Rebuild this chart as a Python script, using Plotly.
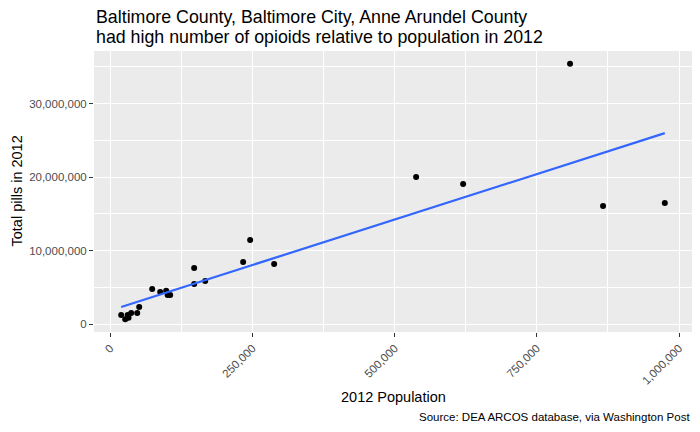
import numpy as np
import plotly.graph_objects as go

population = [19300, 26400, 30600, 32300, 36900, 47500, 51000, 73800, 87900, 98400,
              100900, 105400, 147600, 147600, 167000, 233700, 246000, 288200,
              537800, 620400, 808400, 866400, 975000]
pills = [1.22e6, 0.66e6, 1.22e6, 0.86e6, 1.50e6, 1.50e6, 2.31e6, 4.76e6, 4.35e6, 4.53e6,
         3.95e6, 3.95e6, 7.62e6, 5.44e6, 5.85e6, 8.44e6, 11.43e6, 8.16e6,
         20.0e6, 19.05e6, 35.4e6, 16.05e6, 16.46e6]

title_lines = ["Baltimore County, Baltimore City, Anne Arundel County",
               "had high number of opioids relative to population in 2012"]
x_title = "2012 Population"
y_title = "Total pills in 2012"
caption = "Source: DEA ARCOS database, via Washington Post"

x = np.array(population, dtype=float)
y = np.array(pills, dtype=float)
slope, intercept = np.polyfit(x, y, 1)
xs = np.linspace(x.min(), x.max(), 80)
ys = slope * xs + intercept

xr = x.max() - x.min()
yr = y.max() - y.min()
x_range = [x.min() - 0.05 * xr, x.max() + 0.05 * xr]
y_range = [y.min() - 0.05 * yr, y.max() + 0.05 * yr]

font_family = "Liberation Sans, Arial, sans-serif"

fig = go.Figure()
fig.add_trace(go.Scatter(x=population, y=pills, mode="markers",
                         marker=dict(color="black", size=6), showlegend=False,
                         hoverinfo="skip"))
fig.add_trace(go.Scatter(x=xs, y=ys, mode="lines",
                         line=dict(color="#3366FF", width=2.2), showlegend=False,
                         hoverinfo="skip"))

axis_common = dict(showline=False, zeroline=False, showgrid=True, gridcolor="white",
                   gridwidth=1.1, ticks="outside", ticklen=4, tickcolor="#333333",
                   tickwidth=1, automargin=False,
                   tickfont=dict(family=font_family, size=11.5, color="#4D4D4D"))

# the page body has an 8px margin, so the figure is sized to fit the 700x432 window
fig.update_layout(
    width=692, height=424,
    margin=dict(l=86, r=8, t=43, b=100, autoexpand=False),
    paper_bgcolor="white", plot_bgcolor="#EBEBEB",
    font=dict(family=font_family, color="black"),
    xaxis=dict(range=x_range, tickmode="array",
               tickvals=[0, 250000, 500000, 750000, 1000000],
               ticktext=["0", "250,000", "500,000", "750,000", "1,000,000"],
               tickangle=-45,
               minor=dict(showgrid=True, gridcolor="white", gridwidth=0.5,
                          tickvals=[125000, 375000, 625000, 875000], ticks=""),
               **axis_common),
    yaxis=dict(range=y_range, tickmode="array",
               tickvals=[0, 1e7, 2e7, 3e7],
               ticktext=["0", "10,000,000", "20,000,000", "30,000,000"],
               minor=dict(showgrid=True, gridcolor="white", gridwidth=0.5,
                          tickvals=[5e6, 15e6, 25e6, 35e6], ticks=""),
               **axis_common),
    annotations=[
        dict(text=title_lines[0], xref="paper", yref="paper", x=0, y=1,
             xanchor="left", yanchor="middle", yshift=34, showarrow=False,
             font=dict(family=font_family, size=17.8, color="black")),
        dict(text=title_lines[1], xref="paper", yref="paper", x=0, y=1,
             xanchor="left", yanchor="middle", yshift=14, showarrow=False,
             font=dict(family=font_family, size=17.8, color="black")),
        dict(text=x_title, xref="paper", yref="paper", x=0.5, y=0, yshift=-65,
             xanchor="center", yanchor="middle", showarrow=False,
             font=dict(family=font_family, size=14.5, color="black")),
        dict(text=caption, xref="paper", yref="paper", x=1, y=0, yshift=-85,
             xanchor="right", yanchor="middle", showarrow=False,
             font=dict(family=font_family, size=11.5, color="black")),
        dict(text=y_title, xref="paper", yref="paper", x=0, xshift=-78, y=0.5,
             xanchor="center", yanchor="middle", textangle=-90, showarrow=False,
             font=dict(family=font_family, size=14.5, color="black")),
    ],
)

fig.write_html("out.html")
